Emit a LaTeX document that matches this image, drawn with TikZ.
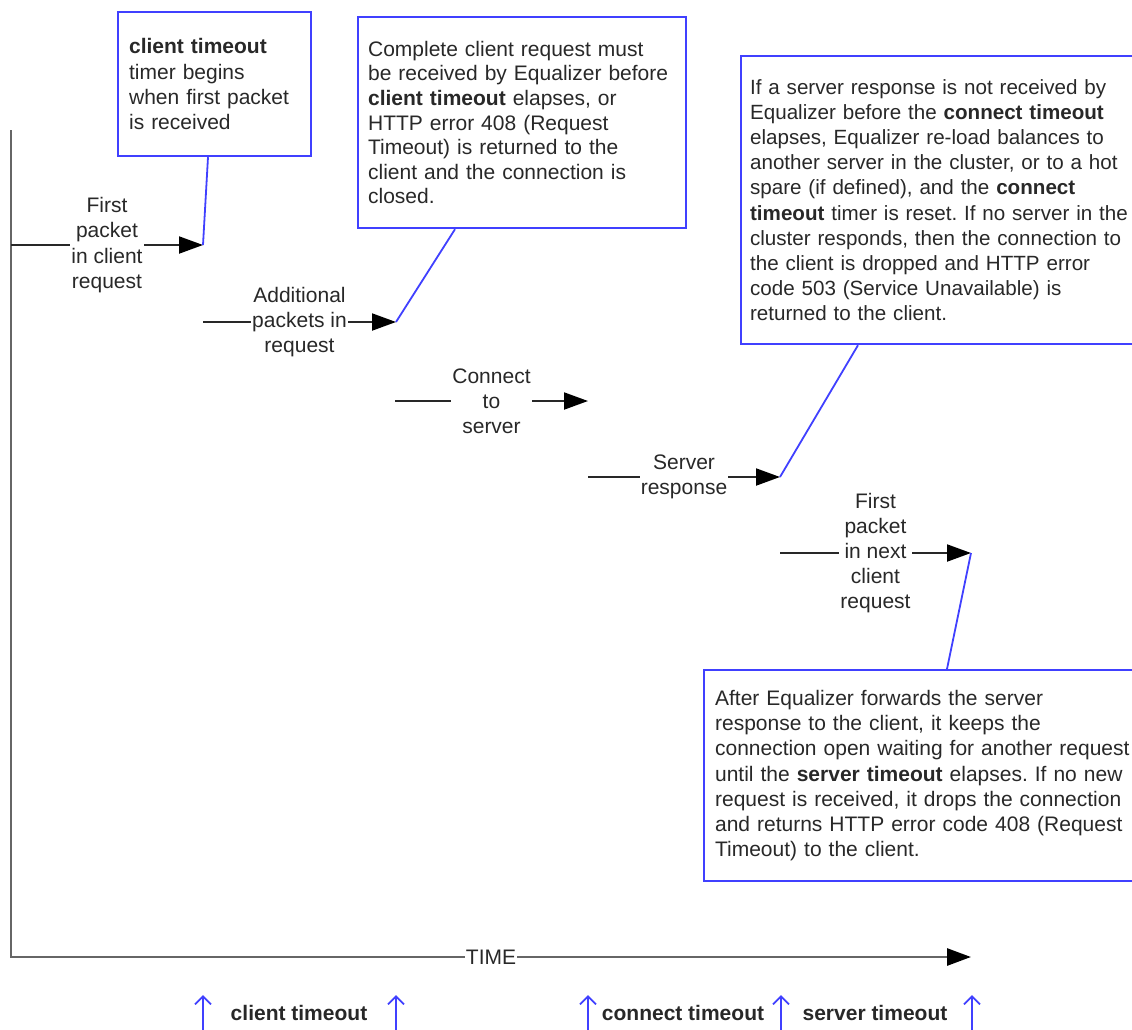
\documentclass[tikz,border=0pt]{standalone}
\usepackage{fontspec}
\setmainfont{Liberation Sans}
\usetikzlibrary{arrows.meta}
\definecolor{noteblue}{RGB}{64,64,255}
\definecolor{ink}{RGB}{40,40,40}
\frenchspacing

\begin{document}
\begin{tikzpicture}[x=0.5pt, y=-0.5pt,
		every node/.style={font=\fontsize{10.5}{12.6}\selectfont, text=ink},
		note/.style={draw=noteblue, line width=1.1pt, anchor=north west, align=left, inner xsep=5.5pt, inner ysep=0pt},
		lbl/.style={fill=white, align=center, inner xsep=0.5pt, inner ysep=1pt},
		flow/.style={draw=ink, line width=1pt, -{Triangle[length=12pt,width=8.5pt,color=black]}},
		axis/.style={draw=black!60, line width=1.4pt, -{Triangle[length=12pt,width=8.5pt,color=black]}},
		link/.style={draw=noteblue, line width=0.9pt},
		limit/.style={draw=noteblue, line width=0.9pt, -{Straight Barb[length=4pt,width=8pt]}}]
			\useasboundingbox (0,0) rectangle (1132,1030);
			\clip (0,0) rectangle (1132,1030);

			\node[note, text width=85.5pt, minimum height=72pt] (ctbox) at (117,11)
				{\textbf{client timeout}\\timer begins\\when first packet\\is received};
			\node[note, text width=154pt, inner xsep=5pt, minimum height=105.5pt,
				font=\fontsize{10.5}{12.3}\selectfont] (crbox) at (357,16)
				{Complete client request must\\be received by Equalizer before\\\textbf{client timeout} elapses, or\\HTTP error 408 (Request\\Timeout) is returned to the\\client and the connection is\\closed.};
			\node[note, text width=200pt, inner xsep=4.5pt, minimum height=144pt,
				font=\fontsize{10.3}{12.6}\selectfont] (cnbox) at (740,55)
				{If a server response is not received by\\Equalizer before the \textbf{connect timeout}\\elapses, Equalizer re-load balances to\\another server in the cluster, or to a hot\\spare (if defined), and the \textbf{connect}\\\textbf{timeout} timer is reset. If no server in the\\cluster responds, then the connection to\\the client is dropped and HTTP error\\code 503 (Service Unavailable) is\\returned to the client.};
			\node[note, text width=217.5pt, minimum height=105.5pt] (svbox) at (703,669)
				{After Equalizer forwards the server\\response to the client, it keeps the\\connection open waiting for another request\\until the \textbf{server timeout} elapses. If no new\\request is received, it drops the connection\\and returns HTTP error code 408 (Request\\Timeout) to the client.};

			\coordinate (top) at (11,130);
			\coordinate (origin) at (11,957);
			\coordinate (tend) at (971,957);
			\coordinate (fp0) at (11,245);   \coordinate (fp1) at (203,245);
			\coordinate (ap0) at (203,322);  \coordinate (ap1) at (396,322);
			\coordinate (cs0) at (395,401);  \coordinate (cs1) at (588,401);
			\coordinate (sr0) at (588,477);  \coordinate (sr1) at (780,477);
			\coordinate (np0) at (780,553);  \coordinate (np1) at (971,553);

			\draw[axis] (top) -- (origin) -- (tend) node[lbl, midway] (time) {TIME};
			\draw[flow] (fp0) -- (fp1) node[lbl, midway] (fp) {First\\packet\\in client\\request};
			\draw[flow] (ap0) -- (ap1) node[lbl, midway] (ap) {Additional\\packets in\\request};
			\draw[flow] (cs0) -- (cs1) node[lbl, midway] (cs) {Connect\\to\\server};
			\draw[flow] (sr0) -- (sr1) node[lbl, midway] (sr) {Server\\response};
			\draw[flow] (np0) -- (np1) node[lbl, midway] (np) {First\\packet\\in next\\client\\request};

			\draw[link] ([xshift=45.5pt]ctbox.south west) -- (fp1);
			\draw[link] ([xshift=49pt]crbox.south west) -- (ap1);
			\draw[link] ([xshift=59pt]cnbox.south west) -- (sr1);
			\draw[link] ([xshift=122pt]svbox.north west) -- (np1);

			\foreach \x [count=\i] in {203,396,588,781,972} {
				\coordinate (b\i) at (\x,1034);
				\coordinate (u\i) at (\x,995);
				\draw[limit] (b\i) -- (u\i);
			}
			\node (ctlim) at (299,1013) {\bfseries client timeout};
			\node (cnlim) at (683,1013) {\bfseries connect timeout};
			\node (svlim) at (875,1013) {\bfseries server timeout};
		\end{tikzpicture}
\end{document}
